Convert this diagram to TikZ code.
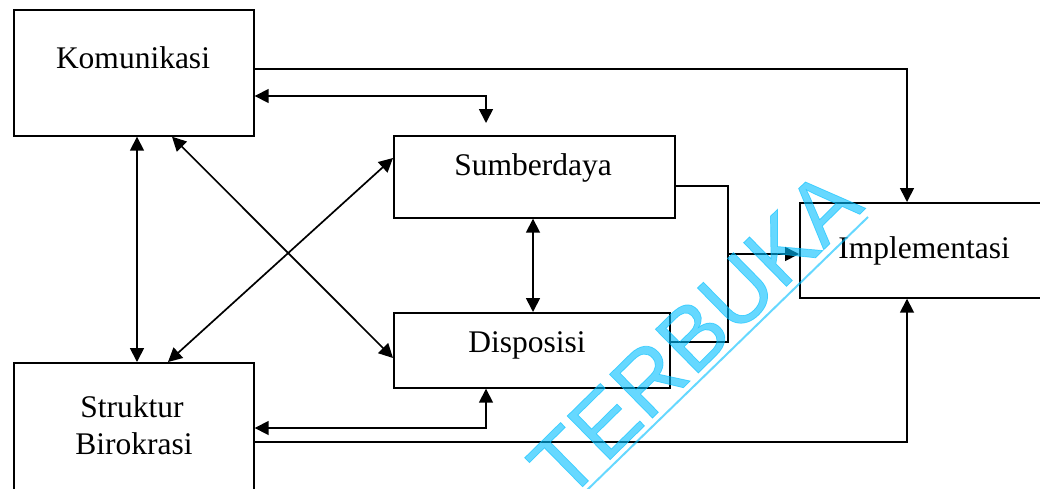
\documentclass[tikz,border=0pt]{standalone}
\usepackage{fontspec}
\setmainfont{Liberation Serif}
\newfontfamily\wmfont[FakeBold=0.8]{Liberation Sans}
\usetikzlibrary{arrows.meta}
\definecolor{wmcyan}{RGB}{0,190,255}
\begin{document}
\begin{tikzpicture}[x=1pt,y=-1pt,
  box/.style={draw, line width=1.7pt, rectangle, inner sep=0pt, anchor=north west},
  lbl/.style={font=\fontsize{31.5}{36}\selectfont, inner sep=0pt, anchor=base},
  conn/.style={line width=1.7pt},
  arr/.style={conn, -{Triangle[length=14pt,width=14pt]}},
  arrb/.style={conn, {Triangle[length=14pt,width=14pt]}-{Triangle[length=14pt,width=14pt]}},
  wm/.style={font=\wmfont\fontsize{89}{89}\selectfont, text=wmcyan, opacity=0.6, inner sep=0pt},
  wmline/.style={draw=wmcyan, draw opacity=0.6, line width=2pt}]
\useasboundingbox (0,0) rectangle (1040,488);
\clip (0,0) rectangle (1040,488);
% boxes
\node[box, minimum width=240pt, minimum height=126pt] (kom) at (13,9) {};
\node[box, minimum width=281pt, minimum height=82pt] (sum) at (393,135) {};
\node[box, minimum width=276pt, minimum height=75pt] (dis) at (393,312) {};
\node[box, minimum width=250pt, minimum height=95pt] (imp) at (799,202) {};
\node[box, minimum width=240pt, minimum height=150pt] (str) at (13,362) {};
% labels
\node[lbl] (tkom) at (133,68) {Komunikasi};
\node[lbl] (tsum) at (533,175) {Sumberdaya};
\node[lbl] (tdis) at (527,352) {Disposisi};
\node[lbl] (timp) at (924,258) {Implementasi};
\node[lbl] (tstr1) at (132,417) {Struktur};
\node[lbl] (tstr2) at (134,454) {Birokrasi};
% connectors
\draw[arr] (kom.east |- 0,69) -| (imp.north -| 907,0);
\draw[arrb] (kom.east |- 0,96) -| ([yshift=12pt]sum.north -| 486,0);
\draw[arrb] (kom.south -| 137,0) -- (str.north -| 137,0);
\draw[arrb] (kom.south -| 172,0) -- (dis.west |- 0,358);
\draw[arrb] (str.north -| 168,0) -- (sum.west |- 0,158);
\draw[arrb] (sum.south -| 533,0) -- (dis.north -| 533,0);
\coordinate (j) at (728,254);
\draw[conn] (sum.east |- 0,186) -| (j);
\draw[conn] (dis.east |- 0,342) -| (j);
\draw[arr] (j) -- (imp.west |- j);
\draw[arrb] (str.east |- 0,428) -| (dis.south -| 486,0);
\draw[arr] (str.east |- 0,442) -| (imp.south -| 907,0);
% watermark
\node[wm, anchor=base west, rotate=44.5] (wmk) at (566,503) {TERBUKA};
\draw[wmline] (586,491) -- (868,217);
\end{tikzpicture}
\end{document}
